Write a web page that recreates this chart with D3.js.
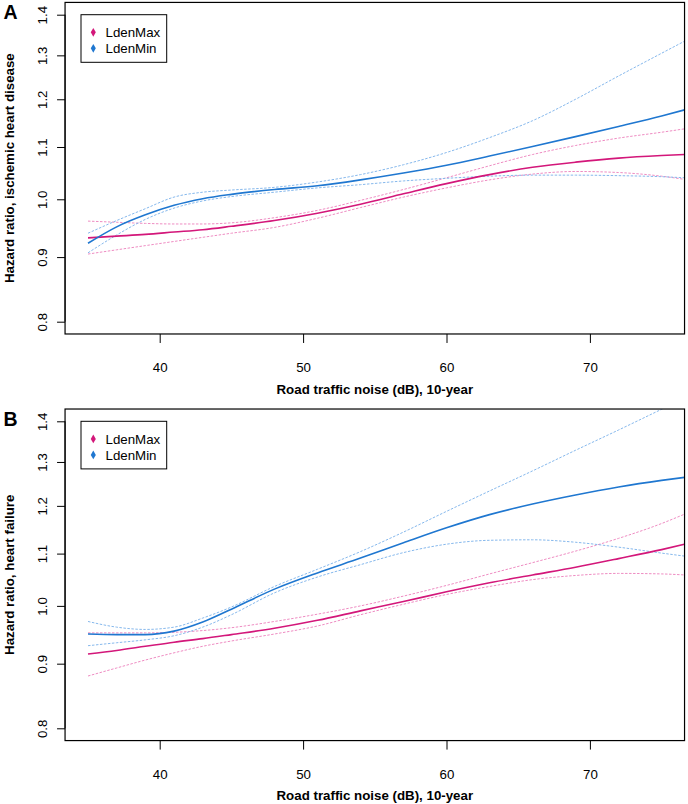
<!DOCTYPE html>
<html>
<head>
<meta charset="utf-8">
<script src="https://cdn.jsdelivr.net/npm/d3@7"></script>
<style>
  html, body { margin: 0; padding: 0; background: #fff; }
  svg { display: block; }
  text { font-family: "Liberation Sans", Arial, Helvetica, sans-serif; }
</style>
</head>
<body>
<svg id="chart" width="688" height="804"></svg>
<script>
// ---- data ----
const noiseDb = [35, 37, 39, 41, 43, 45, 48, 51, 54, 57, 60, 63, 66, 69, 72, 75, 76.6];
const xTicks = [40, 50, 60, 70];
const yTicks = [0.8, 0.9, 1.0, 1.1, 1.2, 1.3, 1.4];
const seriesNames = ["LdenMax", "LdenMin"];
const panelLetters = ["A", "B"];
const yTitles = ["Hazard ratio, ischemic heart disease", "Hazard ratio, heart failure"];
const xTitle = "Road traffic noise (dB), 10-year";

// Panel A: ischemic heart disease
const maxA   = [0.932, 0.935, 0.938, 0.942, 0.946, 0.952, 0.962, 0.975, 0.991, 1.010, 1.029, 1.046, 1.060, 1.070, 1.078, 1.083, 1.085];
const maxLoA = [0.905, 0.912, 0.919, 0.926, 0.933, 0.940, 0.950, 0.966, 0.985, 1.004, 1.021, 1.036, 1.047, 1.052, 1.050, 1.043, 1.037];
const maxHiA = [0.961, 0.959, 0.957, 0.956, 0.956, 0.958, 0.967, 0.980, 0.998, 1.018, 1.040, 1.063, 1.085, 1.103, 1.118, 1.130, 1.137];
const minA   = [0.923, 0.951, 0.972, 0.989, 1.001, 1.009, 1.018, 1.025, 1.036, 1.049, 1.064, 1.082, 1.101, 1.121, 1.142, 1.164, 1.177];
const minLoA = [0.907, 0.937, 0.964, 0.984, 0.997, 1.005, 1.013, 1.021, 1.027, 1.034, 1.039, 1.043, 1.045, 1.045, 1.044, 1.042, 1.040];
const minHiA = [0.940, 0.962, 0.983, 1.004, 1.013, 1.017, 1.022, 1.032, 1.046, 1.065, 1.089, 1.119, 1.154, 1.200, 1.252, 1.305, 1.334];

// Panel B: heart failure
const maxB   = [0.916, 0.922, 0.929, 0.936, 0.942, 0.949, 0.960, 0.974, 0.991, 1.008, 1.026, 1.043, 1.058, 1.073, 1.090, 1.108, 1.119];
const maxLoB = [0.880, 0.893, 0.906, 0.918, 0.929, 0.938, 0.950, 0.964, 0.984, 1.003, 1.021, 1.036, 1.049, 1.057, 1.061, 1.060, 1.058];
const maxHiB = [0.952, 0.952, 0.952, 0.953, 0.956, 0.961, 0.972, 0.985, 1.000, 1.018, 1.038, 1.060, 1.082, 1.105, 1.131, 1.162, 1.182];
const minB   = [0.950, 0.949, 0.949, 0.955, 0.971, 0.994, 1.031, 1.062, 1.091, 1.122, 1.153, 1.181, 1.204, 1.224, 1.242, 1.257, 1.264];
const minLoB = [0.930, 0.935, 0.940, 0.947, 0.962, 0.984, 1.024, 1.054, 1.078, 1.102, 1.119, 1.127, 1.128, 1.123, 1.113, 1.101, 1.095];
const minHiB = [0.972, 0.962, 0.958, 0.962, 0.978, 0.998, 1.036, 1.069, 1.104, 1.144, 1.188, 1.233, 1.279, 1.328, 1.378, 1.431, 1.460];

// ---- styling ----
const colMax = "#d3177a", colMaxCI = "#ee8cc2";
const colMin = "#1f77d0", colMinCI = "#86b8ec";
const fontSize = 13.3;

const panels = [
  { top: 0,   series: { max: maxA, maxLo: maxLoA, maxHi: maxHiA, min: minA, minLo: minLoA, minHi: minHiA } },
  { top: 406.6, series: { max: maxB, maxLo: maxLoB, maxHi: maxHiB, min: minB, minLo: minLoB, minHi: minHiB } }
];

const svg = d3.select("#chart");
const x = d3.scaleLinear().domain([35, 75]).range([88.0, 661.6]);
const xExt = 0.04 * (75 - 35);
const boxLeft = x(35 - xExt), boxRight = x(75 + xExt);
const yExt = Math.exp(0.04 * Math.log(1.4 / 0.8));

panels.forEach((p, i) => {
  const g = svg.append("g").attr("transform", `translate(0,${p.top})`);
  const y = d3.scaleLog().domain([0.8, 1.4]).range([321.7, 14.7]);
  const boxTop = y(1.4 * yExt), boxBottom = y(0.8 / yExt);

  const clipId = "clip" + i;
  g.append("clipPath").attr("id", clipId).append("rect")
    .attr("x", boxLeft).attr("y", boxTop)
    .attr("width", boxRight - boxLeft).attr("height", boxBottom - boxTop);

  const line = d3.line().x((d, k) => x(noiseDb[k])).y(d => y(d)).curve(d3.curveMonotoneX);
  const lines = g.append("g").attr("clip-path", `url(#${clipId})`);
  const defs = [
    { data: p.series.maxLo, color: colMaxCI, dash: "2.5,1.5", w: 1 },
    { data: p.series.maxHi, color: colMaxCI, dash: "2.5,1.5", w: 1 },
    { data: p.series.minLo, color: colMinCI, dash: "2.5,1.5", w: 1 },
    { data: p.series.minHi, color: colMinCI, dash: "2.5,1.5", w: 1 },
    { data: p.series.max, color: colMax, dash: null, w: 1.6 },
    { data: p.series.min, color: colMin, dash: null, w: 1.6 }
  ];
  defs.forEach(d => {
    lines.append("path").datum(d.data)
      .attr("d", line).attr("fill", "none")
      .attr("stroke", d.color).attr("stroke-width", d.w)
      .attr("stroke-dasharray", d.dash);
  });

  // box
  g.append("rect").attr("x", boxLeft).attr("y", boxTop)
    .attr("width", boxRight - boxLeft).attr("height", boxBottom - boxTop)
    .attr("fill", "none").attr("stroke", "#000").attr("stroke-width", 1.2);

  // y axis
  const ya = g.append("g").attr("transform", `translate(${boxLeft},0)`)
    .call(d3.axisLeft(y).tickValues(yTicks).tickSize(8).tickFormat(d3.format(".1f")));
  ya.select(".domain").attr("d", `M0,${y(0.8)}V${y(1.4)}`).attr("stroke", "#000");
  ya.selectAll(".tick line").attr("stroke", "#000");
  ya.selectAll(".tick text")
    .attr("x", null).attr("dy", null)
    .attr("transform", "translate(-18.5,0) rotate(-90)")
    .attr("text-anchor", "middle")
    .style("font-size", fontSize + "px").style("font-family", "'Liberation Sans', Arial, sans-serif")
    .attr("fill", "#000");

  // x axis
  const xa = g.append("g").attr("transform", `translate(0,${boxBottom})`)
    .call(d3.axisBottom(x).tickValues(xTicks).tickSize(9).tickFormat(d3.format("d")));
  xa.select(".domain").remove();
  xa.selectAll(".tick line").attr("stroke", "#000");
  xa.selectAll(".tick text")
    .attr("y", 372 - boxBottom).attr("dy", null)
    .style("font-size", fontSize + "px").style("font-family", "'Liberation Sans', Arial, sans-serif")
    .attr("fill", "#000");

  // titles
  g.append("text").attr("x", (boxLeft + boxRight) / 2).attr("y", 393.5)
    .attr("text-anchor", "middle").style("font-size", fontSize + "px").style("font-weight", "bold")
    .text(xTitle);
  g.append("text")
    .attr("transform", `translate(13.5,${(boxTop + boxBottom) / 2}) rotate(-90)`)
    .attr("text-anchor", "middle").style("font-size", fontSize + "px").style("font-weight", "bold")
    .text(yTitles[i]);
  g.append("text").attr("x", 3.5).attr("y", 19)
    .style("font-size", "19.5px").style("font-weight", "bold")
    .text(panelLetters[i]);

  // legend
  const lg = g.append("g");
  lg.append("rect").attr("x", 81).attr("y", 14.7).attr("width", 85.7).attr("height", 47.6)
    .attr("fill", "#fff").attr("stroke", "#000").attr("stroke-width", 1);
  [colMax, colMin].forEach((c, k) => {
    const cy = 32.3 + k * 16;
    lg.append("path").attr("d", d3.symbol(d3.symbolDiamond, 22)())
      .attr("transform", `translate(93.3,${cy})`).attr("fill", c);
    lg.append("text").attr("x", 105.5).attr("y", cy + 4.8)
      .style("font-size", fontSize + "px").text(seriesNames[k]);
  });
});
</script>
</body>
</html>
